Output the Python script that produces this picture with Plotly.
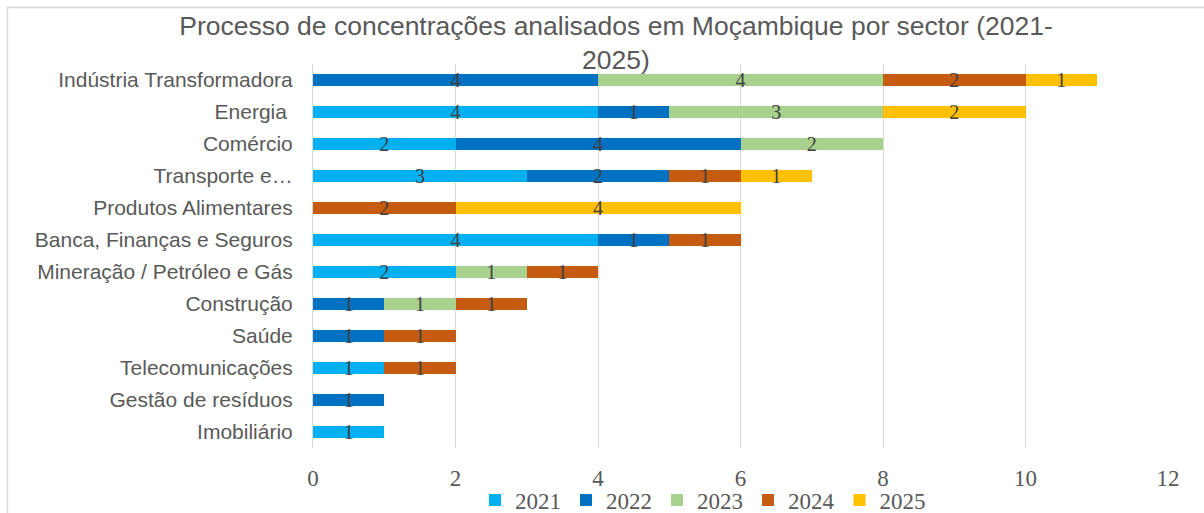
import plotly.graph_objects as go

categories = ["Indústria Transformadora", "Energia\u00a0", "Comércio", "Transporte e…",
              "Produtos Alimentares", "Banca, Finanças e Seguros", "Mineração / Petróleo e Gás",
              "Construção", "Saúde", "Telecomunicações", "Gestão de resíduos", "Imobiliário"]
years = ["2021", "2022", "2023", "2024", "2025"]
v2021 = [0, 4, 2, 3, 0, 4, 2, 0, 0, 1, 0, 1]
v2022 = [4, 1, 4, 2, 0, 1, 0, 1, 1, 0, 1, 0]
v2023 = [4, 3, 2, 0, 0, 0, 1, 1, 0, 0, 0, 0]
v2024 = [2, 0, 0, 1, 2, 1, 1, 1, 1, 1, 0, 0]
v2025 = [1, 2, 0, 1, 4, 0, 0, 0, 0, 0, 0, 0]
series = [v2021, v2022, v2023, v2024, v2025]
colors = ["#00B0F0", "#0070C0", "#A9D18E", "#C55A11", "#FFC000"]

W, H = 1204, 513
L, R, T, B = 313, 36, 64, 65
serif = "Liberation Serif, Times New Roman, serif"
sans = "Liberation Sans, Arial, sans-serif"

fig = go.Figure()
for name, vals, col in zip(years, series, colors):
    xs = [v if v else None for v in vals]
    fig.add_trace(go.Bar(
        y=categories, x=xs, name=name, orientation="h",
        marker=dict(color=col, line=dict(width=0)),
        text=[str(v) if v else "" for v in vals],
        textposition="inside", insidetextanchor="middle", textangle=0,
        textfont=dict(family=serif, size=20, color="#404040"),
        cliponaxis=False,
    ))

pw = W - L - R
ph = H - T - B
fig.update_layout(
    width=W, height=H, barmode="stack", bargap=0.6,
    margin=dict(l=L, r=R, t=T, b=B, autoexpand=False),
    paper_bgcolor="white", plot_bgcolor="white",
    uniformtext=dict(minsize=20, mode="show"),
    title=dict(text="Processo de concentrações analisados em Moçambique por sector (2021-<br>2025)",
               x=616 / W, xanchor="center", xref="container",
               y=1 - 35 / H, yanchor="top", yref="container",
               font=dict(family=sans, size=26.5, color="#595959")),
    xaxis=dict(range=[0, 12], dtick=2, showgrid=True, gridcolor="#D9D9D9", gridwidth=1,
               zeroline=False, showline=False,
               ticks="outside", ticklen=9, tickcolor="rgba(0,0,0,0)",
               tickfont=dict(family=serif, size=23, color="#595959")),
    yaxis=dict(categoryorder="array", categoryarray=categories, autorange="reversed",
               showline=True, linecolor="#D9D9D9", linewidth=1, showgrid=False,
               ticks="outside", ticklen=15, tickcolor="rgba(0,0,0,0)",
               tickfont=dict(family=sans, size=21, color="#595959")),
    legend=dict(orientation="h", x=703 / W, xanchor="center", xref="container",
                y=1 - 500 / H, yanchor="middle", yref="container",
                bgcolor="rgba(0,0,0,0)",
                font=dict(family=serif, size=23, color="#595959"),
                traceorder="normal", itemclick=False),
    showlegend=True,
    shapes=[dict(type="rect", xref="paper", yref="paper",
                 x0=(7.5 - L) / pw, x1=(1210 - L) / pw,
                 y0=(H - B - 530) / ph, y1=(H - B - 7.5) / ph,
                 line=dict(color="#D9D9D9", width=1.5), fillcolor="rgba(0,0,0,0)", layer="below")],
)
fig.write_html("out.html", config={"displayModeBar": False},
               post_script="document.body.style.margin='0';document.body.style.overflow='hidden';")
